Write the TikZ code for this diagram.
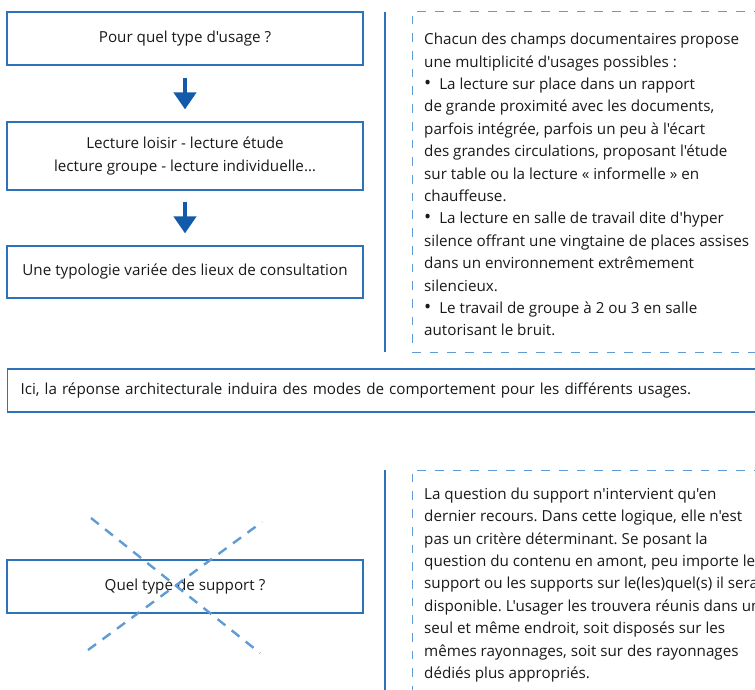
\documentclass[tikz,border=0pt]{standalone}
\usepackage{fontspec}
\setmainfont{Open Sans}[Ligatures=TeXOff]
\usetikzlibrary{arrows.meta}
\definecolor{boxblue}{RGB}{45,115,185}
\definecolor{dashblue}{RGB}{95,155,212}
\definecolor{arrowblue}{RGB}{20,90,170}
\definecolor{txt}{RGB}{25,25,25}
\newcommand{\fsz}{\fontsize{15.2}{22.4}\selectfont\frenchspacing}
\newcommand{\bul}{{\fontsize{19}{22.4}\selectfont •}\hspace{8pt}}
\begin{document}
\begin{tikzpicture}[x=1pt,y=-1pt,
  leftbox/.style={draw=boxblue, line width=1.2pt, minimum width=356pt, align=center, text=txt, font=\fsz, inner sep=0pt},
  bigarrow/.style={arrowblue, line width=4.5pt, -{Triangle[width=22pt,length=17pt]}},
  sepline/.style={boxblue, line width=1.2pt},
  dashline/.style={dashblue, line width=1pt, dash pattern=on 8.7pt off 9pt},
  crossline/.style={dashblue, line width=2.4pt, dash pattern=on 10pt off 8pt},
  bodytext/.style={anchor=north west, inner sep=0pt, align=left, text=txt, font=\fsz},
  barbox/.style={draw=boxblue, line width=1.2pt, anchor=west, minimum width=773pt, minimum height=43pt, inner xsep=13pt, inner ysep=0pt, text width=747pt, align=left, text=txt, font=\fsz}
]
\useasboundingbox (0,0) rectangle (755,690);
\clip (0,0) rectangle (755,690);

% left column
\node[leftbox, minimum height=53pt] (b1) at (185,38.5) {Pour quel type d'usage ?};
\node[leftbox, minimum height=68pt] (b2) at (185,156) {Lecture loisir - lecture étude\\lecture groupe - lecture individuelle…};
\node[leftbox, minimum height=52pt] (b3) at (185,272) {Une typologie variée des lieux de consultation};
\draw[bigarrow] ([yshift=-12pt]b1.south) -- ([yshift=12pt]b2.north);
\draw[bigarrow] ([yshift=-11pt]b2.south) -- ([yshift=12pt]b3.north);

% top right
\draw[sepline] (385,12) -- (385,352);
\draw[dashline] (780,12) -- (412,12) -- (412,352) -- (780,352);
\node[bodytext] (t1) at (424,33) {Chacun des champs documentaires propose\\
une multiplicité d'usages possibles :\\
\bul La lecture sur place dans un rapport\\
de grande proximité avec les documents,\\
parfois intégrée, parfois un peu à l'écart\\
des grandes circulations, proposant l'étude\\
sur table ou la lecture « informelle » en\\
chauffeuse.\\
\bul La lecture en salle de travail dite d'hyper\\
silence offrant une vingtaine de places assises\\
dans un environnement extrêmement\\
silencieux.\\
\bul Le travail de groupe à 2 ou 3 en salle\\
autorisant le bruit.};

% bar
\node[barbox] (bar) at (7,390.5) {Ici, la réponse architecturale induira des modes de comportement pour les différents usages.};

% bottom left
\node[leftbox, minimum height=53pt] (q) at (185,586.5) {Quel type de support ?};
\draw[crossline] (91,518) -- (260,653);
\draw[crossline] (88,650) -- (262,522);

% bottom right
\draw[sepline] (385,470) -- (385,700);
\draw[dashline] (780,470) -- (412,470) -- (412,700);
\node[bodytext] (t2) at (424,487.5) {La question du support n'intervient qu'en\\
dernier recours. Dans cette logique, elle n'est\\
pas un critère déterminant. Se posant la\\
question du contenu en amont, peu importe le\\
support ou les supports sur le(les)quel(s) il sera\\
disponible. L'usager les trouvera réunis dans un\\
seul et même endroit, soit disposés sur les\\
mêmes rayonnages, soit sur des rayonnages\\
dédiés plus appropriés.};
\end{tikzpicture}
\end{document}
